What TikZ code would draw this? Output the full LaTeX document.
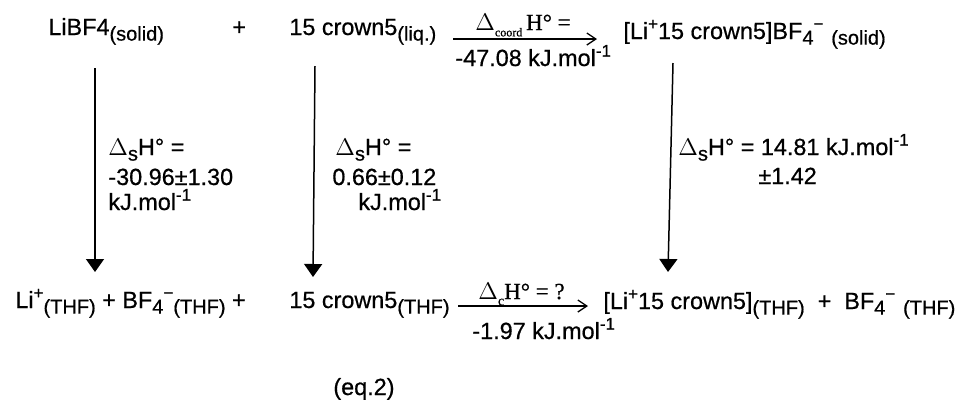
\documentclass[tikz,border=0pt]{standalone}
\usepackage{fontspec}
\setmainfont[FakeBold=0.6]{Liberation Sans}
\newfontfamily\seriffam[FakeBold=0.6]{Liberation Serif}
\usetikzlibrary{arrows.meta}
\newcommand{\dn}[1]{\raisebox{-0.45ex}{\fontsize{10}{11}\selectfont #1}}
\newcommand{\up}[1]{\raisebox{0.75ex}{\fontsize{8.5}{9}\selectfont #1}}
\newcommand{\dsH}{$\Delta$\dn{s}H° =}
\tikzset{
  txt/.style={inner sep=0pt, anchor=base west, font=\fontsize{11.7}{14}\selectfont},
  lbl/.style={inner sep=0pt, anchor=base west, font=\fontsize{11.7}{14}\selectfont},
  slbl/.style={inner sep=0pt, anchor=base west, font=\seriffam\fontsize{11.5}{13}\selectfont},
  varrow/.style={line width=0.75pt, -{Triangle[width=9pt,length=6.5pt]}},
  harrow/.style={line width=0.65pt, -{Straight Barb[length=4.5pt,width=6pt]}}
}
\begin{document}
\begin{tikzpicture}[x=0.5pt,y=-0.5pt]
\useasboundingbox (0,0) rectangle (969,403);
% top row
\node[txt] (r1) at (48,35) {LiBF4\dn{(solid)}};
\node[txt] (p1) at (232,35) {+};
\node[txt] (r2) at (289,35) {15 crown5\dn{(liq.)}};
\node[txt] (r3) at (623,39) {[Li\up{+}15 crown5]BF\dn{4}\up{−}\,\,\dn{(solid)}};
% top arrow
\coordinate (t1) at (453,39);
\coordinate (t2) at (597,39);
\draw[harrow] (t1) -- (t2);
\node[slbl] (ta) at (475,30) {$\Delta$\raisebox{-0.6ex}{\fontsize{6}{7}\selectfont coord}\,H° =};
\node[lbl] (tb) at (455,66) {-47.08 kJ.mol\up{-1}};
% bottom row
\node[txt] (b1) at (15,308) {Li\up{+}\dn{(THF)} + BF\dn{4}\up{−}\dn{(THF)} +};
\node[txt] (b2) at (289,308) {15 crown5\dn{(THF)}};
\node[txt] (b3) at (603,309) {[Li\up{+}15 crown5]\dn{(THF)}\ \ +\ \ BF\dn{4}\up{−}\,\,\dn{(THF)}};
% bottom arrow
\coordinate (u1) at (458,306);
\coordinate (u2) at (588,306);
\draw[harrow] (u1) -- (u2);
\node[slbl] (ua) at (478,299) {$\Delta$\raisebox{-0.6ex}{\fontsize{7}{8}\selectfont c}H° = ?};
\node[lbl] (ub) at (472,339) {-1.97 kJ.mol\up{-1}};
% vertical arrows
\coordinate (v1a) at (95,68);  \coordinate (v1b) at (95,272);
\coordinate (v2a) at (315,66); \coordinate (v2b) at (313,277);
\coordinate (v3a) at (673,63); \coordinate (v3b) at (668,272);
\draw[varrow] (v1a) -- (v1b);
\draw[varrow] (v2a) -- (v2b);
\draw[varrow] (v3a) -- (v3b);
% vertical labels
\node[lbl] (l1a) at (108,155) {\dsH};
\node[lbl] (l1b) at (108,185) {-30.96±1.30};
\node[lbl] (l1c) at (108,210) {kJ.mol\up{-1}};
\node[lbl] (l2a) at (335,155) {\dsH};
\node[lbl] (l2b) at (332,185) {0.66±0.12};
\node[lbl] (l2c) at (358,210) {kJ.mol\up{-1}};
\node[lbl] (l3a) at (678,155) {\dsH{} 14.81 kJ.mol\up{-1}};
\node[lbl] (l3b) at (758,184) {±1.42};
% equation label
\node[lbl] (eq) at (333,395) {(eq.2)};
\end{tikzpicture}
\end{document}
